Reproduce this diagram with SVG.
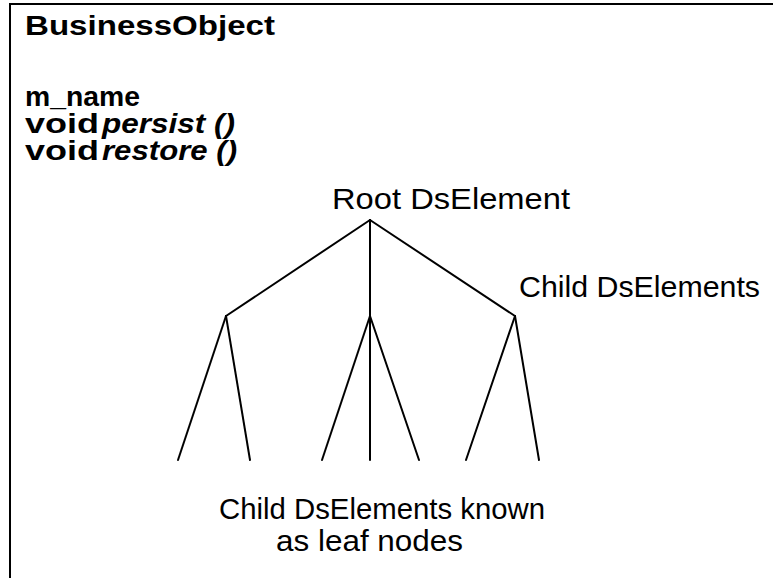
<svg xmlns="http://www.w3.org/2000/svg" width="773" height="578" viewBox="0 0 773 578">
  <style>
    .frame { fill: none; stroke: #000; stroke-width: 2; }
    .edge { stroke: #000; stroke-width: 2; stroke-linecap: round; fill: none; }
    .cls { font-family: "Liberation Sans", Arial, sans-serif; font-size: 27px; font-weight: bold; fill: #000; }
    .op { font-style: italic; }
    .lbl { font-family: "Liberation Sans", Arial, sans-serif; font-size: 29px; fill: #000; }
  </style>

  <rect width="773" height="578" fill="#fff"/>

  <!-- class box with its members -->
  <g id="business-object">
    <path class="frame" d="M10,580 V4 H776"/>
    <text class="cls" x="25" y="35" textLength="250" lengthAdjust="spacingAndGlyphs">BusinessObject</text>
    <text class="cls" x="25" y="106" textLength="115" lengthAdjust="spacingAndGlyphs">m_name</text>
    <text class="cls" x="25" y="133" textLength="74" lengthAdjust="spacingAndGlyphs">void</text>
    <text class="cls op" x="102" y="133" textLength="133" lengthAdjust="spacingAndGlyphs">persist ()</text>
    <text class="cls" x="25" y="160" textLength="74" lengthAdjust="spacingAndGlyphs">void</text>
    <text class="cls op" x="102" y="160" textLength="135" lengthAdjust="spacingAndGlyphs">restore ()</text>
  </g>

  <!-- tree labels -->
  <g id="root-element">
    <text class="lbl" x="332" y="209" textLength="238" lengthAdjust="spacingAndGlyphs">Root DsElement</text>
  </g>
  <g id="child-elements">
    <text class="lbl" x="519" y="297" textLength="241" lengthAdjust="spacingAndGlyphs">Child DsElements</text>
  </g>
  <g id="leaf-nodes">
    <text class="lbl" x="219" y="519" textLength="326" lengthAdjust="spacingAndGlyphs">Child DsElements known</text>
    <text class="lbl" x="276" y="551" textLength="187" lengthAdjust="spacingAndGlyphs">as leaf nodes</text>
  </g>

  <!-- tree edges -->
  <g id="connectors">
    <line class="edge" x1="370" y1="220" x2="226" y2="316"/>
    <line class="edge" x1="370" y1="220" x2="370" y2="460"/>
    <line class="edge" x1="370" y1="220" x2="515" y2="316"/>
    <line class="edge" x1="226" y1="316" x2="178" y2="460"/>
    <line class="edge" x1="226" y1="316" x2="250" y2="460"/>
    <line class="edge" x1="370" y1="316" x2="322" y2="460"/>
    <line class="edge" x1="370" y1="316" x2="419" y2="460"/>
    <line class="edge" x1="515" y1="316" x2="466" y2="460"/>
    <line class="edge" x1="515" y1="316" x2="539" y2="460"/>
  </g>
</svg>
